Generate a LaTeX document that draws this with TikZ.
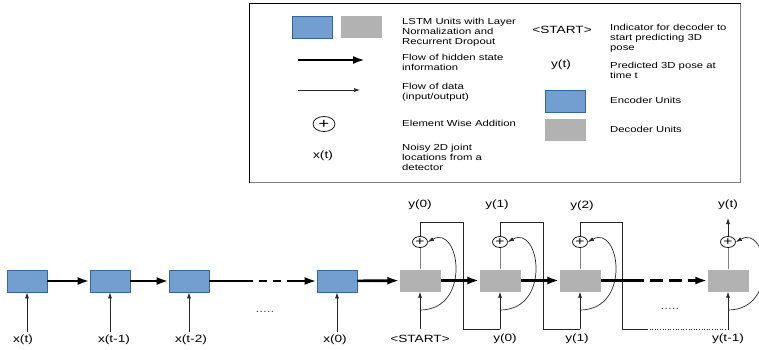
\documentclass[tikz,border=0pt]{standalone}
\usepackage{fontspec}
\newfontfamily\diagfont[FakeStretch=1.3]{Liberation Sans}
\usetikzlibrary{arrows.meta,shapes.geometric}
\definecolor{encfill}{RGB}{114,159,207}
\definecolor{encline}{RGB}{52,101,164}
\definecolor{decfill}{RGB}{178,178,178}

\begin{document}
\begin{tikzpicture}[x=1pt,y=-1pt,
	encunit/.style={draw=encline, fill=encfill, line width=0.8pt, minimum width=40pt, minimum height=22pt, inner sep=0pt},
	decunit/.style={fill=decfill, minimum width=41pt, minimum height=22pt, inner sep=0pt},
	hidflow/.style={line width=2.7pt},
	hidarrow/.style={hidflow, -{Latex[length=12pt,width=8pt]}},
	dataflow/.style={line width=0.7pt, draw=black!85, -{Latex[length=6pt,width=4pt]}},
	loopline/.style={line width=0.7pt, draw=black!85},
	addnode/.style={ellipse, draw, line width=0.7pt, minimum width=15pt, minimum height=11pt, inner sep=0pt, font=\diagfont\fontsize{12}{12}\selectfont},
	lbl/.style={font=\diagfont\fontsize{10.5}{12}\selectfont, inner sep=0pt},
	legtxt/.style={font=\diagfont\fontsize{8.7}{10}\selectfont, align=left, anchor=west, inner sep=0pt}]
	\useasboundingbox (0,0) rectangle (759,349);

	%Shape: Legend frame
	\draw [line width=0.6pt] (249,3) rectangle (740,182);
	\draw [gray, line width=1.5pt] (740.5,4) -- (740.5,182.5) -- (250,182.5);

	% Legend entries
	\node [encunit] (kb) at (312,27) {};
	\node [decunit] (kg) at (361,27) {};
	\node [legtxt] (tu) at (402,32) {LSTM Units with Layer\\Normalization and\\Recurrent Dropout};
	\coordinate (lh1) at (298,60);
	\coordinate (lh2) at (365,60);
	\draw [hidarrow] (lh1) -- (lh2);
	\node [legtxt] (th) at (402,62) {Flow of hidden state\\information};
	\coordinate (ld1) at (298,90);
	\coordinate (ld2) at (360,90);
	\draw [dataflow] (ld1) -- (ld2);
	\node [legtxt] (td) at (402,92) {Flow of data\\(input/output)};
	\node [addnode, minimum width=22pt, minimum height=15pt, font=\diagfont\fontsize{14}{14}\selectfont] (ka) at (324,124) {+};
	\node [legtxt] (te) at (402,123) {Element Wise Addition};
	\node [lbl] (kx) at (323,156) {x(t)};
	\node [legtxt] (tx) at (402,157) {Noisy 2D joint\\locations from a\\detector};
	\node [lbl] (ks) at (562,30) {<START>};
	\node [legtxt] (ts) at (610,38) {Indicator for decoder to\\start predicting 3D\\pose};
	\node [lbl] (ky) at (561,65) {y(t)};
	\node [legtxt] (ty) at (610,70) {Predicted 3D pose at\\time t};
	\node [encunit] (ke) at (565,101) {};
	\node [legtxt] (tn) at (610,100) {Encoder Units};
	\node [decunit] (kd) at (565,130) {};
	\node [legtxt] (tk) at (610,129) {Decoder Units};

	% Encoder units and their inputs
	\foreach \n/\x in {1/27,2/110,3/189,4/337} {
		\node [encunit] (e\n) at (\x,281) {};
		\coordinate (i\n) at (\x,332);
		\draw [dataflow] (i\n) -- (e\n);
	}
	\node [lbl] (x1) at (23,340) {x(t)};
	\node [lbl] (x2) at (114,340) {x(t-1)};
	\node [lbl] (x3) at (191,340) {x(t-2)};
	\node [lbl] (x4) at (335,340) {x(0)};
	\node [lbl, black!70] (g1) at (265,312) {.....};

	% Decoder units, additions and inputs
	\foreach \n/\x in {1/420,2/500,3/580,4/728} {
		\node [decunit] (d\n) at (\x,280.5) {};
		\node [addnode] (p\n) at (\x,242) {+};
		\coordinate (u\n) at (\x,329);
		\coordinate (c\n) at (\x,310);
		\draw [dataflow] (u\n) -- (d\n);
		\draw [line width=0.7pt, gray] (d\n.north) -- (p\n.south);
		\draw [dataflow] (c\n) .. controls +(52,0) and +(32,-18) .. (p\n.east);
	}

	% Feedback of predictions
	\coordinate (r1) at (463,222);
	\coordinate (r2) at (543,222);
	\coordinate (r3) at (622,222);
	\coordinate (q3) at (647,329);
	\draw [loopline] (p1.north) |- (r1) |- (u2);
	\draw [loopline] (p2.north) |- (r2) |- (u3);
	\draw [loopline] (p3.north) |- (r3) |- (q3);
	\draw [loopline, dash pattern=on 1pt off 1.6pt] (q3) -- (u4);
	\coordinate (o4) at (728,218);
	\draw [dataflow] (p4) -- (o4);

	% Text Node
	\node [lbl] (y1) at (420,205) {y(0)};
	\node [lbl] (y2) at (497,205) {y(1)};
	\node [lbl] (y3) at (582,206) {y(2)};
	\node [lbl] (y4) at (728,205) {y(t)};
	\node [lbl] (s1) at (420,339) {<START>};
	\node [lbl] (s2) at (505,339) {y(0)};
	\node [lbl] (s3) at (577,339) {y(1)};
	\node [lbl] (s4) at (728,339) {y(t-1)};
	\node [lbl, black!70] (g2) at (670,309) {.....};

	% Hidden state flow
	\draw [hidarrow] (e1) -- (e2);
	\draw [hidarrow] (e2) -- (e3);
	\draw [hidflow] (e3.east) -- ++(36,0) coordinate (ea);
	\draw [hidflow, dash pattern=on 8pt off 6pt] (ea) -- ++(42,0) coordinate (eb);
	\draw [hidarrow] (eb) -- (e4.west);
	\draw [hidarrow] (e4) -- (d1);
	\draw [hidarrow] (d1) -- (d2);
	\draw [hidarrow] (d2) -- (d3);
	\draw [hidflow] (d3.east) -- ++(30,0) coordinate (fa);
	\draw [hidflow, dash pattern=on 13pt off 6pt] (fa) -- ++(57,0) coordinate (fb);
	\draw [hidarrow] (fb) -- (d4.west);
\end{tikzpicture}
\end{document}
